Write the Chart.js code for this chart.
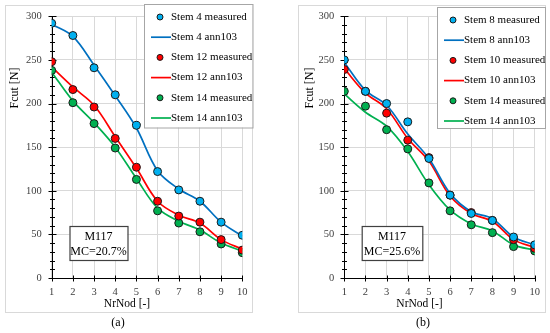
<!DOCTYPE html>
<html>
<head>
<meta charset="utf-8">
<script src="https://cdn.jsdelivr.net/npm/chart.js@4.4.0/dist/chart.umd.min.js"></script>
<style>
    html, body { margin: 0; padding: 0; background: #fff; }
    body { width: 550px; height: 333px; position: relative; overflow: hidden; font-family: "Liberation Serif", serif; }
    .frame { position: absolute; top: 5px; width: 248px; height: 308px; border: 1px solid #d9d9d9; box-sizing: border-box; }
    canvas { position: absolute; top: 0; }
    .cap { position: absolute; top: 315px; width: 40px; text-align: center; font-size: 12px; color: #000; }
</style>
</head>
<body>
<div class="frame" style="left:5px"></div>
<div class="frame" style="left:298px"></div>
<canvas id="chartA" width="275" height="333" style="left:0"></canvas>
<canvas id="chartB" width="275" height="333" style="left:275px"></canvas>
<div class="cap" style="left:98px">(a)</div>
<div class="cap" style="left:403px">(b)</div>
<script>
// dados
const nodes = [1, 2, 3, 4, 5, 6, 7, 8, 9, 10];
const yTicks = [0, 50, 100, 150, 200, 250, 300];

// painel (a) - M117, MC=20.7%
const stem4Measured = [292, 278, 241, 210, 175, 122, 101, 88, 64, 49];
const stem4Ann = [291, 277, 244, 209, 172, 123, 102, 88, 64, 48];
const stem12Measured = [248, 216, 196, 160, 127, 88, 71, 64, 44, 32];
const stem12Ann = [242, 219, 198, 162, 126, 88, 72, 63, 44, 33];
const stem14aMeasured = [238, 201, 177, 149, 113, 77, 63, 53, 39, 29];
const stem14aAnn = [236, 203, 178, 150, 114, 80, 65, 55, 40, 31];

// painel (b) - M117, MC=25.6%
const stem8Measured = [250, 214, 200, 179, 137, 95, 74, 66, 47, 38];
const stem8Ann = [247, 215, 198, 165, 137, 97, 76, 68, 47, 38];
const stem10Measured = [239, 214, 189, 158, 138, 95, 75, 66, 44, 34];
const stem10Ann = [240, 212, 194, 160, 134, 94, 74, 65, 44, 35];
const stem14bMeasured = [214, 197, 170, 148, 109, 77, 61, 52, 36, 31];
const stem14bAnn = [211, 190, 174, 145, 107, 78, 62, 54, 38, 32];

const COLORS = {
    blueDot: '#00b0f0', blueLine: '#0070c0',
    red: '#ff0000', green: '#00b050'
};
const FONT = '"Liberation Serif", serif';

function pts(values) {
    return nodes.map((n, i) => ({ x: n, y: values[i] }));
}

function measured(label, values, color) {
    return {
        label: label, data: pts(values), showLine: false, order: 1,
        pointRadius: 4, pointHoverRadius: 4, pointBorderWidth: 1,
        pointBackgroundColor: color, pointBorderColor: '#1a1a1a',
        backgroundColor: color, borderColor: color
    };
}

function ann(label, values, color) {
    return {
        label: label, data: pts(values), order: 2,
        borderColor: color, borderWidth: 1.7, pointRadius: 0,
        tension: 0.35, fill: false
    };
}

// eixos com marcas cruzadas e marcas menores no eixo y
const axisMarks = {
    id: 'axisMarks',
    beforeDatasetsDraw(chart) {
        const { ctx, scales: { x, y } } = chart;
        ctx.save();
        ctx.strokeStyle = '#000';
        ctx.lineWidth = 1;
        const ax = Math.round(x.getPixelForValue(1)) + 0.5;
        const ay = Math.round(y.getPixelForValue(0)) + 0.5;
        ctx.beginPath();
        ctx.moveTo(ax, Math.round(y.getPixelForValue(300)));
        ctx.lineTo(ax, ay);
        ctx.lineTo(Math.round(x.getPixelForValue(10)) + 1, ay);
        for (let v = 0; v <= 300; v += 10) {
            const py = Math.round(y.getPixelForValue(v)) + 0.5;
            const len = v % 50 === 0 ? 4 : 2.5;
            ctx.moveTo(ax - len, py);
            ctx.lineTo(ax + len, py);
        }
        nodes.forEach(n => {
            const px = Math.round(x.getPixelForValue(n)) + 0.5;
            ctx.moveTo(px, ay - 3);
            ctx.lineTo(px, ay + 3);
        });
        ctx.stroke();
        ctx.restore();
    }
};

// legenda, títulos dos eixos e caixa de texto
const overlay = {
    id: 'overlay',
    afterDraw(chart) {
        const { ctx, scales: { x, y } } = chart;
        const o = chart.options.plugins.overlay;
        ctx.save();

        // títulos dos eixos
        ctx.fillStyle = '#000';
        ctx.font = '11.5px ' + FONT;
        ctx.textAlign = 'center';
        ctx.textBaseline = 'middle';
        ctx.fillText('NrNod [-]', (x.left + x.right) / 2 - 20, 304);
        ctx.save();
        ctx.translate(o.yTitleX, 88);
        ctx.rotate(-Math.PI / 2);
        ctx.font = '12px ' + FONT;
        ctx.fillText('Fcut [N]', 0, 0);
        ctx.restore();

        // caixa M117
        const b = o.box;
        ctx.fillStyle = '#fff';
        ctx.fillRect(b.x, 226, b.w, 34);
        ctx.strokeStyle = '#404040';
        ctx.lineWidth = 1.2;
        ctx.strokeRect(b.x + 0.5, 226.5, b.w, 34);
        ctx.fillStyle = '#000';
        ctx.font = '12px ' + FONT;
        ctx.fillText('M117', b.x + b.w / 2, 237);
        ctx.fillText(b.text, b.x + b.w / 2, 252);

        // legenda
        const L = o.legend;
        ctx.fillStyle = '#fff';
        ctx.fillRect(L.x, L.y, L.w, L.h);
        ctx.strokeStyle = '#a6a6a6';
        ctx.lineWidth = 1;
        ctx.strokeRect(L.x + 0.5, L.y + 0.5, L.w, L.h);
        ctx.font = '11px ' + FONT;
        ctx.textAlign = 'left';
        chart.data.datasets.forEach((ds, i) => {
            const ry = L.y + 13 + i * 20.2;
            const mx = L.x + 16;
            if (ds.showLine === false) {
                ctx.beginPath();
                ctx.arc(mx, ry, 3, 0, Math.PI * 2);
                ctx.fillStyle = ds.pointBackgroundColor;
                ctx.fill();
                ctx.strokeStyle = '#1a1a1a';
                ctx.lineWidth = 1;
                ctx.stroke();
            } else {
                ctx.beginPath();
                ctx.moveTo(mx - 9, ry);
                ctx.lineTo(mx + 11, ry);
                ctx.strokeStyle = ds.borderColor;
                ctx.lineWidth = 1.7;
                ctx.stroke();
            }
            ctx.fillStyle = '#000';
            ctx.fillText(ds.label, mx + 11, ry);
        });
        ctx.restore();
    }
};

function buildChart(id, datasets, pad, extra) {
    return new Chart(document.getElementById(id), {
        type: 'line',
        data: { datasets: datasets },
        options: {
            responsive: false,
            animation: false,
            devicePixelRatio: 1,
            layout: { padding: pad },
            plugins: {
                legend: { display: false },
                tooltip: { enabled: false },
                overlay: extra
            },
            scales: {
                x: {
                    type: 'linear', min: 1, max: 10,
                    afterFit: s => { s.height = 26; },
                    ticks: { stepSize: 1, padding: 8, color: '#404040', font: { family: FONT, size: 10.5 } },
                    grid: { color: '#d9d9d9', drawTicks: false },
                    border: { display: false }
                },
                y: {
                    type: 'linear', min: 0, max: 300,
                    afterFit: s => { s.width = pad.yWidth; },
                    afterBuildTicks: s => { s.ticks = yTicks.map(v => ({ value: v })); },
                    ticks: { padding: 10, color: '#404040', font: { family: FONT, size: 10.5 } },
                    grid: { color: '#d9d9d9', drawTicks: false },
                    border: { display: false }
                }
            }
        },
        plugins: [axisMarks, overlay]
    });
}

buildChart('chartA', [
    measured('Stem 4 measured', stem4Measured, COLORS.blueDot),
    ann('Stem 4 ann103', stem4Ann, COLORS.blueLine),
    measured('Stem 12 measured', stem12Measured, COLORS.red),
    ann('Stem 12 ann103', stem12Ann, COLORS.red),
    measured('Stem 14 measured', stem14aMeasured, COLORS.green),
    ann('Stem 14 ann103', stem14aAnn, COLORS.green)
], { left: 0, right: 32.7, top: 11.7, bottom: 29, yWidth: 51.7 }, {
    yTitleX: 15,
    box: { x: 69.5, w: 58, text: 'MC=20.7%' },
    legend: { x: 144, y: 4, w: 108.5, h: 123.5 }
});

buildChart('chartB', [
    measured('Stem 8 measured', stem8Measured, COLORS.blueDot),
    ann('Stem 8 ann103', stem8Ann, COLORS.blueLine),
    measured('Stem 10 measured', stem10Measured, COLORS.red),
    ann('Stem 10 ann103', stem10Ann, COLORS.red),
    measured('Stem 14 measured', stem14bMeasured, COLORS.green),
    ann('Stem 14 ann103', stem14bAnn, COLORS.green)
], { left: 0, right: 15.3, top: 11.7, bottom: 29, yWidth: 69.3 }, {
    yTitleX: 35,
    box: { x: 86.7, w: 60.6, text: 'MC=25.6%' },
    legend: { x: 162, y: 7, w: 108, h: 121 }
});
</script>
</body>
</html>
